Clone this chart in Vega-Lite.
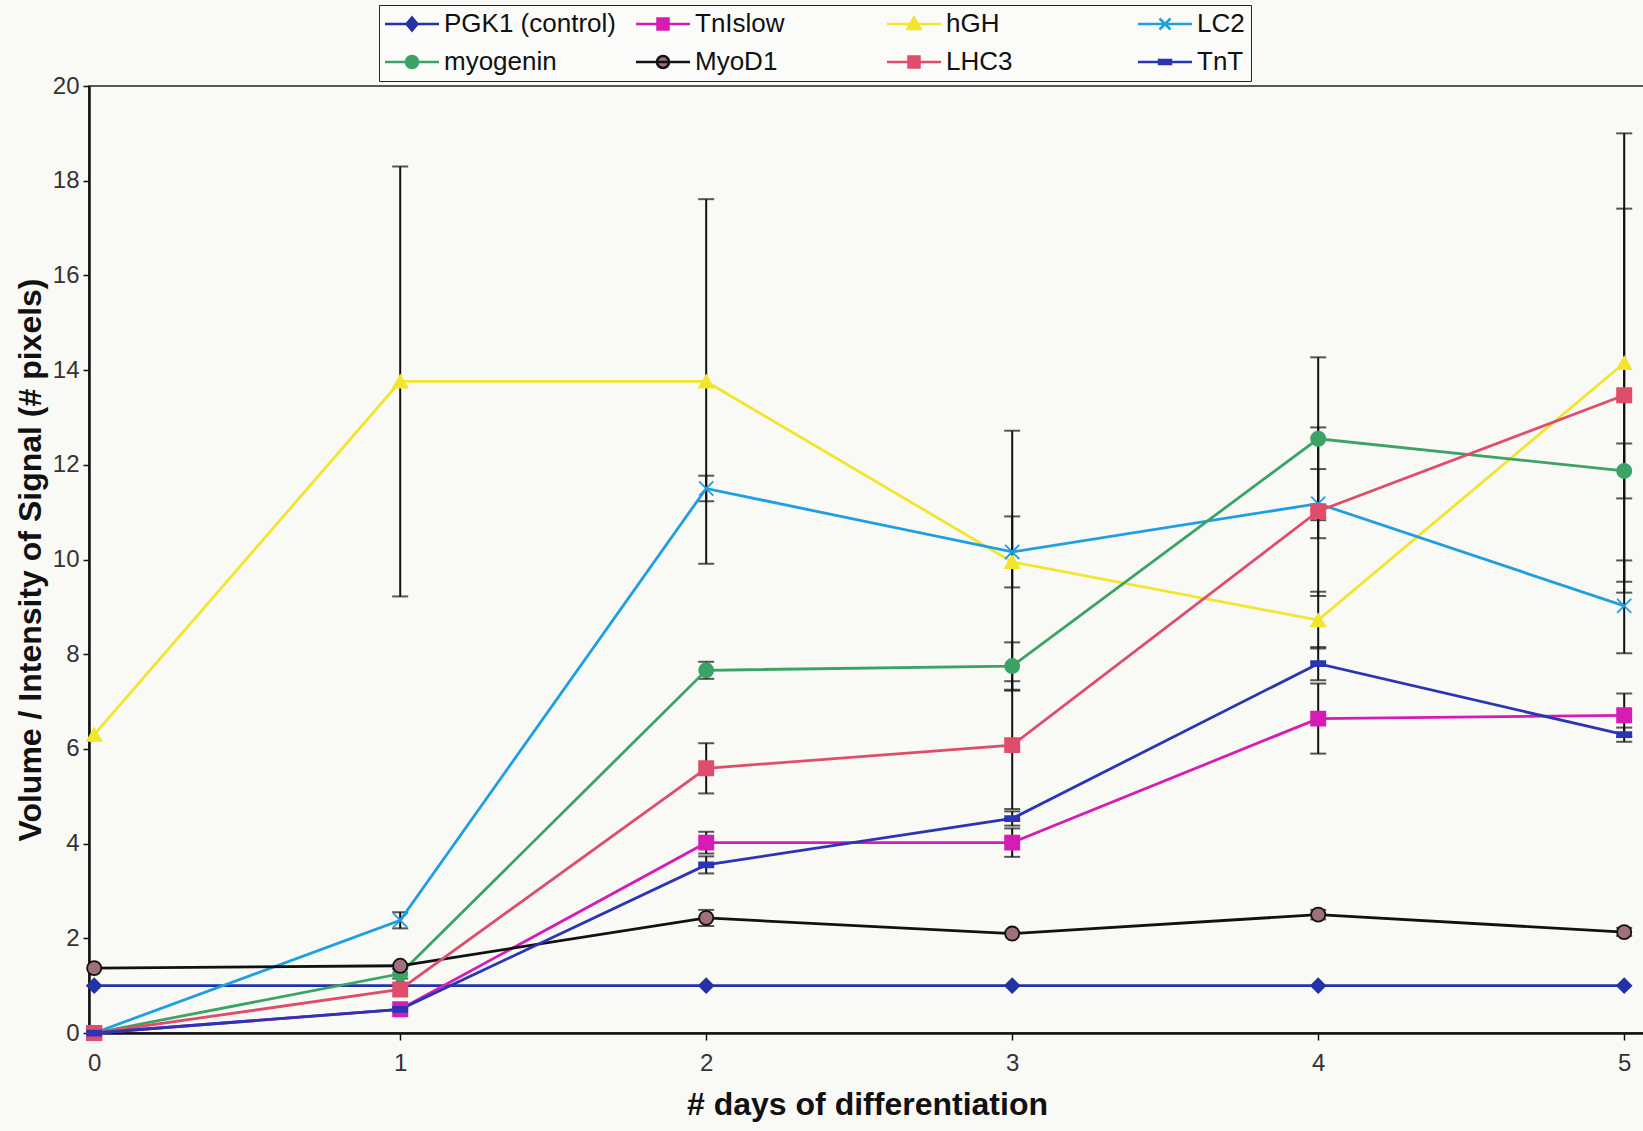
{
  "$schema": "https://vega.github.io/schema/vega-lite/v6.json",
  "width": 1556,
  "height": 947,
  "autosize": "none",
  "padding": {"left": 89, "top": 86, "right": 0, "bottom": 98},
  "background": "#f9f9f6",
  "config": {
    "font": "Liberation Sans",
    "view": {"stroke": "#222222", "strokeWidth": 1.5},
    "axis": {"grid": false, "domainColor": "#111111", "domainWidth": 2.5, "tickColor": "#111111", "tickWidth": 1.5, "labelColor": "#333333", "labelFont": "Liberation Sans", "titleFont": "Liberation Sans", "titleColor": "#111111"},
    "legend": {
      "orient": "none",
      "legendX": 290,
      "legendY": -81,
      "direction": "horizontal",
      "columns": 4,
      "gridAlign": "all",
      "columnPadding": 15,
      "rowPadding": 12,
      "padding": 6,
      "fillColor": "#fbfbf9",
      "strokeColor": "#222222",
      "labelFont": "Liberation Sans",
      "labelFontSize": 26,
      "labelColor": "#111111",
      "labelLimit": 300,
      "labelOffset": 19,
      "symbolSize": 100,
      "symbolOffset": 14,
      "symbolStrokeWidth": 2.5,
      "symbolOpacity": 1
    }
  },
  "datasets": {
    "pts": [
      {"day": 0, "series": "PGK1 (control)", "value": 1.0},
      {"day": 1, "series": "PGK1 (control)", "value": 1.0},
      {"day": 2, "series": "PGK1 (control)", "value": 1.0},
      {"day": 3, "series": "PGK1 (control)", "value": 1.0},
      {"day": 4, "series": "PGK1 (control)", "value": 1.0},
      {"day": 5, "series": "PGK1 (control)", "value": 1.0},
      {"day": 0, "series": "TnIslow", "value": 0},
      {"day": 1, "series": "TnIslow", "value": 0.5},
      {"day": 2, "series": "TnIslow", "value": 4.02},
      {"day": 3, "series": "TnIslow", "value": 4.02},
      {"day": 4, "series": "TnIslow", "value": 6.64},
      {"day": 5, "series": "TnIslow", "value": 6.71},
      {"day": 0, "series": "hGH", "value": 6.3},
      {"day": 1, "series": "hGH", "value": 13.76},
      {"day": 2, "series": "hGH", "value": 13.76},
      {"day": 3, "series": "hGH", "value": 9.95},
      {"day": 4, "series": "hGH", "value": 8.72},
      {"day": 5, "series": "hGH", "value": 14.15},
      {"day": 0, "series": "LC2", "value": 0},
      {"day": 1, "series": "LC2", "value": 2.38},
      {"day": 2, "series": "LC2", "value": 11.5},
      {"day": 3, "series": "LC2", "value": 10.16},
      {"day": 4, "series": "LC2", "value": 11.18},
      {"day": 5, "series": "LC2", "value": 9.02},
      {"day": 0, "series": "myogenin", "value": 0},
      {"day": 1, "series": "myogenin", "value": 1.25},
      {"day": 2, "series": "myogenin", "value": 7.66},
      {"day": 3, "series": "myogenin", "value": 7.75},
      {"day": 4, "series": "myogenin", "value": 12.55},
      {"day": 5, "series": "myogenin", "value": 11.87},
      {"day": 0, "series": "MyoD1", "value": 1.37},
      {"day": 1, "series": "MyoD1", "value": 1.42},
      {"day": 2, "series": "MyoD1", "value": 2.43},
      {"day": 3, "series": "MyoD1", "value": 2.1},
      {"day": 4, "series": "MyoD1", "value": 2.5},
      {"day": 5, "series": "MyoD1", "value": 2.13},
      {"day": 0, "series": "LHC3", "value": 0},
      {"day": 1, "series": "LHC3", "value": 0.92},
      {"day": 2, "series": "LHC3", "value": 5.59},
      {"day": 3, "series": "LHC3", "value": 6.08},
      {"day": 4, "series": "LHC3", "value": 11.02},
      {"day": 5, "series": "LHC3", "value": 13.47},
      {"day": 0, "series": "TnT", "value": 0},
      {"day": 1, "series": "TnT", "value": 0.5},
      {"day": 2, "series": "TnT", "value": 3.55},
      {"day": 3, "series": "TnT", "value": 4.53},
      {"day": 4, "series": "TnT", "value": 7.8},
      {"day": 5, "series": "TnT", "value": 6.3}
    ],
    "err": [
      {"day": 1, "series": "hGH", "lo": 9.22, "hi": 18.3},
      {"day": 1, "series": "LC2", "lo": 2.21, "hi": 2.55},
      {"day": 1, "series": "myogenin", "lo": 1.15, "hi": 1.35},
      {"day": 2, "series": "hGH", "lo": 9.91, "hi": 17.61},
      {"day": 2, "series": "LC2", "lo": 11.23, "hi": 11.77},
      {"day": 2, "series": "myogenin", "lo": 7.48, "hi": 7.84},
      {"day": 2, "series": "LHC3", "lo": 5.06, "hi": 6.12},
      {"day": 2, "series": "TnIslow", "lo": 3.79, "hi": 4.25},
      {"day": 2, "series": "TnT", "lo": 3.37, "hi": 3.73},
      {"day": 2, "series": "MyoD1", "lo": 2.26, "hi": 2.6},
      {"day": 3, "series": "hGH", "lo": 7.23, "hi": 12.72},
      {"day": 3, "series": "LC2", "lo": 9.41, "hi": 10.91},
      {"day": 3, "series": "myogenin", "lo": 7.25, "hi": 8.25},
      {"day": 3, "series": "LHC3", "lo": 4.73, "hi": 7.43},
      {"day": 3, "series": "TnT", "lo": 4.38, "hi": 4.68},
      {"day": 3, "series": "TnIslow", "lo": 3.72, "hi": 4.32},
      {"day": 4, "series": "myogenin", "lo": 10.83, "hi": 14.27},
      {"day": 4, "series": "LC2", "lo": 10.45, "hi": 11.91},
      {"day": 4, "series": "LHC3", "lo": 9.23, "hi": 12.79},
      {"day": 4, "series": "hGH", "lo": 8.12, "hi": 9.32},
      {"day": 4, "series": "TnT", "lo": 7.45, "hi": 8.15},
      {"day": 4, "series": "TnIslow", "lo": 5.9, "hi": 7.38},
      {"day": 4, "series": "MyoD1", "lo": 2.4, "hi": 2.6},
      {"day": 5, "series": "hGH", "lo": 9.3, "hi": 19.0},
      {"day": 5, "series": "LHC3", "lo": 9.53, "hi": 17.41},
      {"day": 5, "series": "myogenin", "lo": 11.29, "hi": 12.45},
      {"day": 5, "series": "LC2", "lo": 8.02, "hi": 9.98},
      {"day": 5, "series": "TnIslow", "lo": 6.25, "hi": 7.17},
      {"day": 5, "series": "TnT", "lo": 6.15, "hi": 6.45},
      {"day": 5, "series": "MyoD1", "lo": 2.05, "hi": 2.22}
    ]
  },
  "layer": [
    {
      "data": {"name": "err"},
      "mark": {"type": "rule", "color": "#111111", "strokeWidth": 2},
      "encoding": {
        "x": {"field": "day", "type": "quantitative", "scale": {"domain": [-0.017, 5.068], "nice": false, "zero": false},
          "axis": {"values": [0, 1, 2, 3, 4, 5], "format": "d", "tickSize": 7, "labelPadding": 11, "labelFontSize": 24, "title": "# days of differentiation", "titleFontSize": 32, "titleFontWeight": "bold", "titlePadding": 14}},
        "y": {"field": "lo", "type": "quantitative", "scale": {"domain": [0, 20], "nice": false},
          "axis": {"values": [0, 2, 4, 6, 8, 10, 12, 14, 16, 18, 20], "tickSize": 6, "labelPadding": 4, "labelFontSize": 24, "title": "Volume / Intensity of Signal (# pixels)", "titleFontSize": 32, "titleFontWeight": "bold", "titlePadding": 5}},
        "y2": {"field": "hi"}
      }
    },
    {
      "data": {"name": "err"},
      "mark": {"type": "tick", "orient": "horizontal", "color": "#111111", "size": 16, "thickness": 2},
      "encoding": {
        "x": {"field": "day", "type": "quantitative"},
        "y": {"field": "lo", "type": "quantitative"}
      }
    },
    {
      "data": {"name": "err"},
      "mark": {"type": "tick", "orient": "horizontal", "color": "#111111", "size": 16, "thickness": 2},
      "encoding": {
        "x": {"field": "day", "type": "quantitative"},
        "y": {"field": "hi", "type": "quantitative"}
      }
    },
    {
      "data": {"name": "pts"},
      "mark": {"type": "line", "strokeWidth": 2.8},
      "encoding": {
        "x": {"field": "day", "type": "quantitative"},
        "y": {"field": "value", "type": "quantitative"},
        "stroke": {"field": "series", "type": "nominal",
          "scale": {"domain": ["TnT", "LHC3", "MyoD1", "myogenin", "LC2", "hGH", "TnIslow", "PGK1 (control)"],
            "range": ["#2a35b5", "#e04d6b", "#111111", "#3aa365", "#1e9fe3", "#f2e52c", "#d61cb4", "#2233a8"]},
          "legend": null}
      }
    },
    {
      "data": {"name": "pts"},
      "mark": {"type": "point", "filled": true, "size": 200, "strokeWidth": 1.8, "opacity": 1},
      "encoding": {
        "x": {"field": "day", "type": "quantitative"},
        "y": {"field": "value", "type": "quantitative"},
        "stroke": {"field": "series", "type": "nominal", "legend": null},
        "shape": {"field": "series", "type": "nominal",
          "scale": {"domain": ["TnT", "LHC3", "MyoD1", "myogenin", "LC2", "hGH", "TnIslow", "PGK1 (control)"],
            "range": ["M-1,-0.35H1V0.35H-1Z", "square", "circle", "circle", "M-1,-1L1,1M-1,1L1,-1", "triangle-up", "square", "diamond"]},
          "legend": null},
        "fill": {"field": "series", "type": "nominal",
          "scale": {"domain": ["PGK1 (control)", "TnIslow", "hGH", "LC2", "myogenin", "MyoD1", "LHC3", "TnT"],
            "range": ["#2233a8", "#d61cb4", "#f2e52c", "#1e9fe3", "#3aa365", "#a2707c", "#e04d6b", "#2a35b5"]},
          "legend": {"title": null, "encode": {"symbols": {"update": {
            "shape": {"signal": "datum.value==='PGK1 (control)'?'M-5.4,0H5.4M0,-1.3L1.1,0L0,1.3L-1.1,0Z':datum.value==='TnIslow'||datum.value==='LHC3'?'M-5.4,0H5.4M-1.1,-1.1H1.1V1.1H-1.1Z':datum.value==='hGH'?'M-5.4,0H5.4M0,-1.3L1.3,1L-1.3,1Z':datum.value==='LC2'?'M-5.4,0H5.4M-1.1,-1.1L1.1,1.1M-1.1,1.1L1.1,-1.1':datum.value==='TnT'?'M-5.4,0H5.4M-1.2,-0.4H1.2V0.4H-1.2Z':'M-5.4,0H5.4M-1.2,0A1.2,1.2 0 1,0 1.2,0A1.2,1.2 0 1,0 -1.2,0Z'"},
            "stroke": {"signal": "scale('stroke', datum.value)"},
            "strokeWidth": {"value": 2.5}}}}}}
      }
    }
  ]
}
